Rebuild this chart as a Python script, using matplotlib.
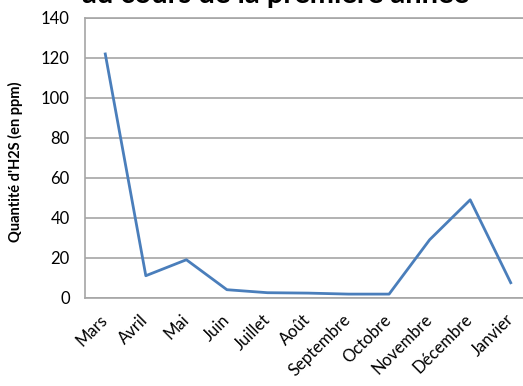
import matplotlib
matplotlib.use("Agg")
import matplotlib.pyplot as plt

mois = ["Mars", "Avril", "Mai", "Juin", "Juillet", "Août", "Septembre",
        "Octobre", "Novembre", "Décembre", "Janvier"]
h2s = [122, 11, 19, 4, 2.5, 2.3, 1.8, 1.8, 29, 49, 7.5]
yticks = [0, 20, 40, 60, 80, 100, 120, 140]

plt.rcParams['font.family'] = ['Lato', 'DejaVu Sans']

fig = plt.figure(figsize=(5.23, 3.86), dpi=100)
ax = fig.add_axes([85/523, 1-297.7/386, 446/523, 279.7/386])

ax.plot(range(len(mois)), h2s, color="#4a7ebb", lw=2.0)

ax.set_xlim(-0.5, len(mois) - 0.5)
ax.set_ylim(0, 140)
ax.set_yticks(yticks)
ax.set_xticks(range(len(mois)))
ax.set_xticklabels(mois, rotation=45, ha="right", va="center", rotation_mode="anchor")
ax.tick_params(length=0, labelsize=12)
ax.tick_params(axis="y", pad=11)
ax.tick_params(axis="x", pad=14)
ax.grid(axis="y", color="#a6a6a6", lw=1.2)
ax.set_axisbelow(True)
for s in ["left", "bottom", "top"]:
    ax.spines[s].set_color("#a6a6a6")
    ax.spines[s].set_linewidth(1.2)
ax.spines["right"].set_visible(False)

ax.set_ylabel("Quantité d'H2S (en ppm)", fontsize=10.5, fontweight="bold")
ax.yaxis.set_label_coords(-0.14, 0.486)

fig.text(275/523, 1-3/386, "au cours de la première année", ha="center",
         va="baseline", fontsize=21, fontweight="bold")

fig.savefig("out.png", dpi=100)
